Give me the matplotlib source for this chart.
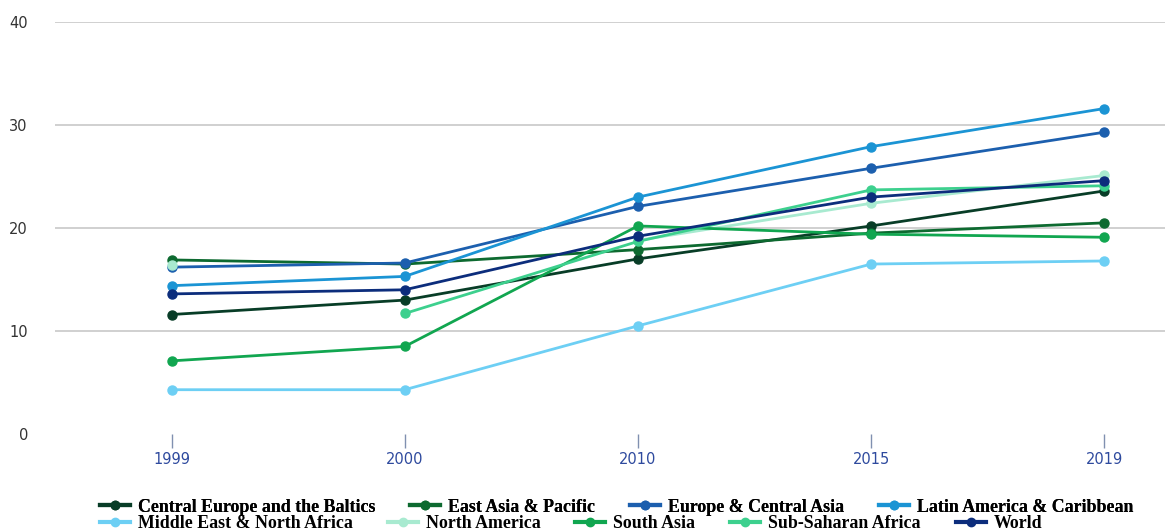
import numpy as np
import matplotlib.pyplot as plt
from matplotlib.lines import Line2D

years = ["1999", "2000", "2010", "2015", "2019"]

central_europe = [11.6, 13.0, 17.0, 20.2, 23.6]
east_asia = [16.9, 16.5, 17.9, 19.5, 20.5]
europe_ca = [16.2, 16.6, 22.1, 25.8, 29.3]
latin_america = [14.4, 15.3, 23.0, 27.9, 31.6]
mena = [4.3, 4.3, 10.5, 16.5, 16.8]
north_america = [16.4, np.nan, 18.8, 22.4, 25.1]
south_asia = [7.1, 8.5, 20.2, 19.4, 19.1]
ssa = [np.nan, 11.7, 18.7, 23.7, 24.1]
world = [13.6, 14.0, 19.2, 23.0, 24.6]

series = [
    ("Central Europe and the Baltics", central_europe, "#083d27"),
    ("East Asia & Pacific", east_asia, "#0d6a30"),
    ("Europe & Central Asia", europe_ca, "#1c5fae"),
    ("Latin America & Caribbean", latin_america, "#1b94d4"),
    ("Middle East & North Africa", mena, "#6dcff4"),
    ("North America", north_america, "#a8ead0"),
    ("South Asia", south_asia, "#11a650"),
    ("Sub-Saharan Africa", ssa, "#3dd08e"),
    ("World", world, "#0c2d7c"),
]

fig = plt.figure(figsize=(11.65, 5.31), dpi=100)
ax = fig.add_axes([55 / 1165, (531 - 434) / 531, 1 - 55 / 1165, (434 - 22) / 531])

x = np.arange(len(years))
handles = []
for name, vals, col in series:
    ax.plot(x, vals, color=col, lw=2, marker="o", ms=6.5, zorder=3)
    handles.append(Line2D([], [], color=col, lw=3, marker="o", ms=6, label=name))

ax.set_ylim(0, 40)
ax.set_xlim(-0.5, 4.26)
ax.set_yticks([0, 10, 20, 30, 40])
ax.set_xticks(x)
ax.set_xticklabels(years)
for v in [10, 20, 30, 40]:
    ax.axhline(v, color="#c8c8c8", lw=1.2, zorder=1)
for s in ax.spines.values():
    s.set_visible(False)
ax.tick_params(axis="y", length=0, pad=19.5, labelsize=10.5, labelcolor="#333333")
ax.tick_params(axis="x", length=10, width=1, color="#8090b0", pad=3,
               labelsize=10.5, labelcolor="#2e4a9e")

font = {"family": "Liberation Serif", "weight": "bold", "size": 12.9}
opts = dict(loc="center left", frameon=False, prop=font, handlelength=1.67,
            columnspacing=1.95, handletextpad=0.45, borderpad=0, borderaxespad=0)
leg1 = fig.legend(handles=handles[:4], ncol=4,
                  bbox_to_anchor=(100 / 1165, 1 - 507 / 531), **opts)
fig.add_artist(leg1)
fig.legend(handles=handles[4:], ncol=5,
           bbox_to_anchor=(100 / 1165, 1 - 524 / 531), **opts)

fig.savefig("out.png", dpi=100)
